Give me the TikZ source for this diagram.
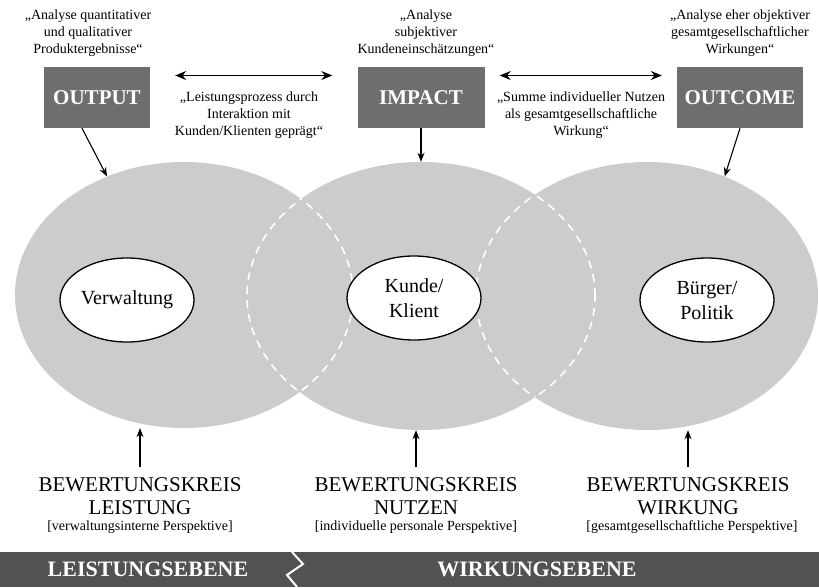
\documentclass[tikz,border=0pt]{standalone}
\usepackage{fontspec}
\setmainfont{Liberation Serif}
\usetikzlibrary{positioning,arrows.meta,shapes.geometric}
\definecolor{boxgrau}{gray}{0.43}
\definecolor{kreisgrau}{gray}{0.80}
\definecolor{bandgrau}{gray}{0.32}
\tikzset{
  >={Stealth[length=9pt,width=7pt]},
  kreis/.style={ellipse,fill=kreisgrau,inner sep=0pt},
  kern/.style={ellipse,draw=black,fill=white,line width=1.3pt,
    minimum width=134pt,minimum height=84pt,inner sep=0pt,align=center,
    font=\fontsize{20}{25}\selectfont},
  ebox/.style={fill=boxgrau,text=white,minimum height=61pt,
    font=\fontsize{21}{25}\selectfont\bfseries},
  zitat/.style={align=center,inner sep=0pt,font=\fontsize{14}{17}\selectfont},
  pfeil/.style={->,line width=1.1pt},
  dpfeil/.style={<->,line width=1.4pt,>={Stealth[length=11pt,width=9pt]}},
  bkreis/.style={align=center,inner sep=0pt,font=\fontsize{21}{23}\selectfont},
  perspektive/.style={inner sep=0pt,font=\fontsize{14}{16}\selectfont},
  naht/.style={white,line width=1.6pt,dash pattern=on 8pt off 6pt},
  ebene/.style={text=white,inner sep=0pt,font=\fontsize{22}{26}\selectfont\bfseries},
}
\begin{document}
\begin{tikzpicture}[x=1pt,y=-1pt]
  \useasboundingbox (0,0) rectangle (819,587);
  % Bewertungskreise
  \node[kreis,minimum width=338pt,minimum height=266pt] (kl) at (184,295) {};
  \node[kreis,minimum width=348pt,minimum height=268pt] (km) at (421,296) {};
  \node[kreis,minimum width=342pt,minimum height=268pt] (kr) at (647,296) {};
  % Ueberschneidungen
  \begin{scope}
    \clip (184,295) ellipse [x radius=169pt,y radius=133pt];
    \draw[naht] (421,296) ellipse [x radius=174pt,y radius=134pt];
  \end{scope}
  \begin{scope}
    \clip (421,296) ellipse [x radius=174pt,y radius=134pt];
    \draw[naht] (184,295) ellipse [x radius=169pt,y radius=133pt];
    \draw[naht] (647,296) ellipse [x radius=171pt,y radius=134pt];
  \end{scope}
  \begin{scope}
    \clip (647,296) ellipse [x radius=171pt,y radius=134pt];
    \draw[naht] (421,296) ellipse [x radius=174pt,y radius=134pt];
  \end{scope}
  \node[kern] (verw) at (127,300) {Verwaltung};
  \node[kern] (kunde) at (414,298) {Kunde/\\Klient};
  \node[kern] (buerger) at (707,300) {Bürger/\\Politik};
  % Ebenen oben
  \node[ebox,minimum width=106pt] (out) at (97,97.5) {OUTPUT};
  \node[ebox,minimum width=127pt] (imp) at (421,97.5) {IMPACT};
  \node[ebox,minimum width=126pt] (outc) at (740,97.5) {OUTCOME};
  \node[zitat] (zout) at (88,33) {„Analyse quantitativer\\und qualitativer\\Produktergebnisse“};
  \node[zitat] (zimp) at (426,33) {„Analyse\\subjektiver\\Kundeneinschätzungen“};
  \node[zitat] (zoutc) at (740,33) {„Analyse eher objektiver\\gesamtgesellschaftlicher\\Wirkungen“};
  \node[zitat] (zlp) at (249,115) {„Leistungsprozess durch\\Interaktion mit\\Kunden/Klienten geprägt“};
  \node[zitat] (zsum) at (581,115) {„Summe individueller Nutzen\\als gesamtgesellschaftliche\\Wirkung“};
  \draw[dpfeil,shorten <=25pt,shorten >=25pt] ([yshift=22pt]out.east) -- ([yshift=22pt]imp.west);
  \draw[dpfeil,shorten <=15pt,shorten >=15pt] ([yshift=22pt]imp.east) -- ([yshift=22pt]outc.west);
  \draw[pfeil] ([xshift=-15pt]out.south) -- (kl.123);
  \draw[pfeil] (imp) -- (km);
  \draw[pfeil] (outc.south) -- (kr.57);
  % Bewertung unten
  \node[bkreis] (bk1) at (140,496) {BEWERTUNGSKREIS\\LEISTUNG};
  \node[bkreis] (bk2) at (416,496) {BEWERTUNGSKREIS\\NUTZEN};
  \node[bkreis] (bk3) at (688,496) {BEWERTUNGSKREIS\\WIRKUNG};
  \node[perspektive] (bp1) at (140,527) {[verwaltungsinterne Perspektive]};
  \node[perspektive] (bp2) at (416,527) {[individuelle personale Perspektive]};
  \node[perspektive] (bp3) at (692,527) {[gesamtgesellschaftliche Perspektive]};
  \draw[pfeil] ([yshift=10pt]bk1.north) -- (bk1.north |- kl.south);
  \draw[pfeil] ([yshift=10pt]bk2.north) -- (bk2.north |- km.south);
  \draw[pfeil] ([yshift=10pt]bk3.north) -- (bk3.north |- kr.south);
  % Leistungs- und Wirkungsebene
  \fill[bandgrau] (0,552) rectangle (819,587);
  \draw[white,line width=2pt] (292,552) -- (303,564) -- (287,575) -- (297,587);
  \node[ebene] (leb) at (148,569) {LEISTUNGSEBENE};
  \node[ebene] (web) at (537,569) {WIRKUNGSEBENE};
\end{tikzpicture}
\end{document}
